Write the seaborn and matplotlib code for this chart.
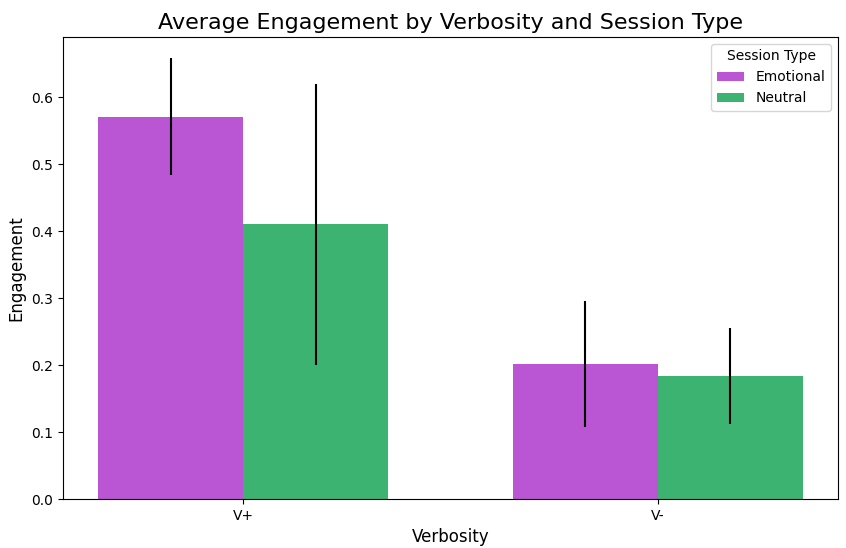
import pandas as pd
import matplotlib
matplotlib.use("Agg")
import matplotlib.pyplot as plt
import seaborn as sns

verbosity = ["V+", "V+", "V-", "V-"]
session_type = ["Emotional", "Neutral", "Emotional", "Neutral"]
engagement = [0.571, 0.410, 0.2015, 0.1836]
err = [0.087, 0.210, 0.094, 0.072]

df = pd.DataFrame({"Verbosity": verbosity, "Session Type": session_type,
                   "Engagement": engagement, "err": err})

palette = {"Emotional": "mediumorchid", "Neutral": "mediumseagreen"}

fig, ax = plt.subplots(figsize=(8.46, 5.48), dpi=100)
sns.barplot(data=df, x="Verbosity", y="Engagement", hue="Session Type",
            palette=palette, width=0.7, errorbar=None, saturation=1, ax=ax)

# error bars at the bar centres, in hue order
for container, st in zip(ax.containers, ["Emotional", "Neutral"]):
    sub = df[df["Session Type"] == st].set_index("Verbosity")
    for bar, v in zip(container, ["V+", "V-"]):
        xc = bar.get_x() + bar.get_width() / 2
        ax.errorbar(xc, sub.loc[v, "Engagement"], yerr=sub.loc[v, "err"],
                    fmt="none", ecolor="black", elinewidth=1.5, capsize=0)

ax.set_xlim(-0.435, 1.435)
ax.set_ylim(0, 0.69)
ax.set_title("Average Engagement by Verbosity and Session Type", fontsize=16)
ax.set_xlabel("Verbosity", fontsize=12)
ax.set_ylabel("Engagement", fontsize=12)
ax.legend(title="Session Type", loc="upper right")

fig.subplots_adjust(left=0.0745, right=0.9905, top=0.9325, bottom=0.0894)
fig.savefig("out.png", dpi=100)
